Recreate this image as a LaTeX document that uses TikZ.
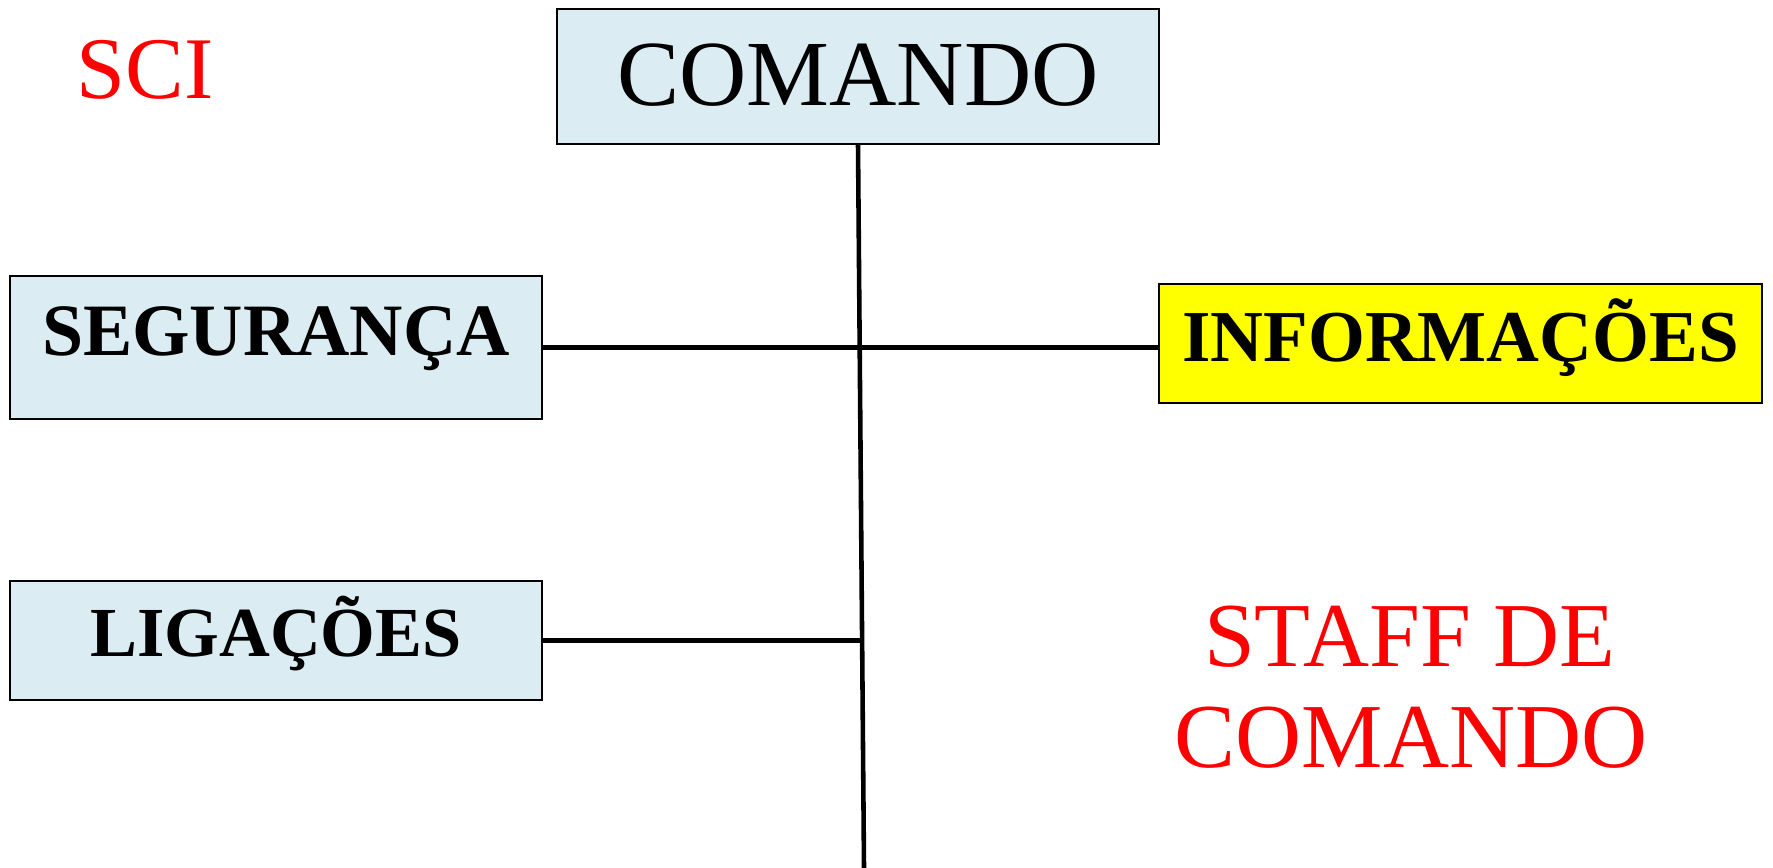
\documentclass[tikz,border=0pt]{standalone}
\usepackage{fontspec}
\setmainfont{Liberation Serif}
\usepackage{tikz}
\usetikzlibrary{calc}

\definecolor{boxblue}{RGB}{219,237,243}
\definecolor{boxyellow}{RGB}{255,255,0}

\begin{document}
\begin{tikzpicture}[x=0.01cm,y=-0.01cm]
    % `unit' is used for the boxes of the chart.
    % `title' is used for the red texts.
    \tikzstyle{unit} = [draw=black,line width=0.6pt,fill=boxblue,inner sep=0pt]
    \tikzstyle{title} = [text=red,font=\fontsize{26pt}{28.7pt}\selectfont,inner sep=0pt,anchor=base]
    \tikzstyle{link} = [line width=1.3pt]
    %
    \useasboundingbox (0,0) rectangle (1773,868);
    % Boxes.
    \node[unit,minimum width=6.02cm,text height=0.96cm,text depth=0.39cm,
          font=\fontsize{26.5pt}{28pt}\selectfont] (cmd) at (858,76.5) {COMANDO};
    \node[unit,minimum width=5.32cm,text height=0.80cm,text depth=0.63cm,
          font=\fontsize{21pt}{24pt}\selectfont\bfseries] (seg) at (276,347.5) {SEGURANÇA};
    \node[unit,fill=boxyellow,minimum width=6.03cm,text height=0.78cm,text depth=0.41cm,
          font=\fontsize{20.8pt}{24pt}\selectfont\bfseries] (info) at (1460.5,343.5) {INFORMAÇÕES};
    \node[unit,minimum width=5.32cm,text height=0.75cm,text depth=0.44cm,
          font=\fontsize{20pt}{24pt}\selectfont\bfseries] (lig) at (276,640.5) {LIGAÇÕES};
    % Red texts.
    \node[title,font=\fontsize{25pt}{28pt}\selectfont] (sci) at (145,99) {SCI};
    \node[title] (staff1) at (1410,667) {STAFF DE};
    \node[title] (staff2) at (1411,768) {COMANDO};
    %
    \coordinate (bottom) at (864,868);
    \coordinate (ligjoin) at ($(cmd.south)!0.69!(bottom)$);
    % Draw lines.
    \draw[link] (cmd.south) -- (bottom)
                (seg.east) -- (seg.east -| info.west)
                (lig.east) -- (lig.east -| ligjoin);
\end{tikzpicture}
\end{document}
